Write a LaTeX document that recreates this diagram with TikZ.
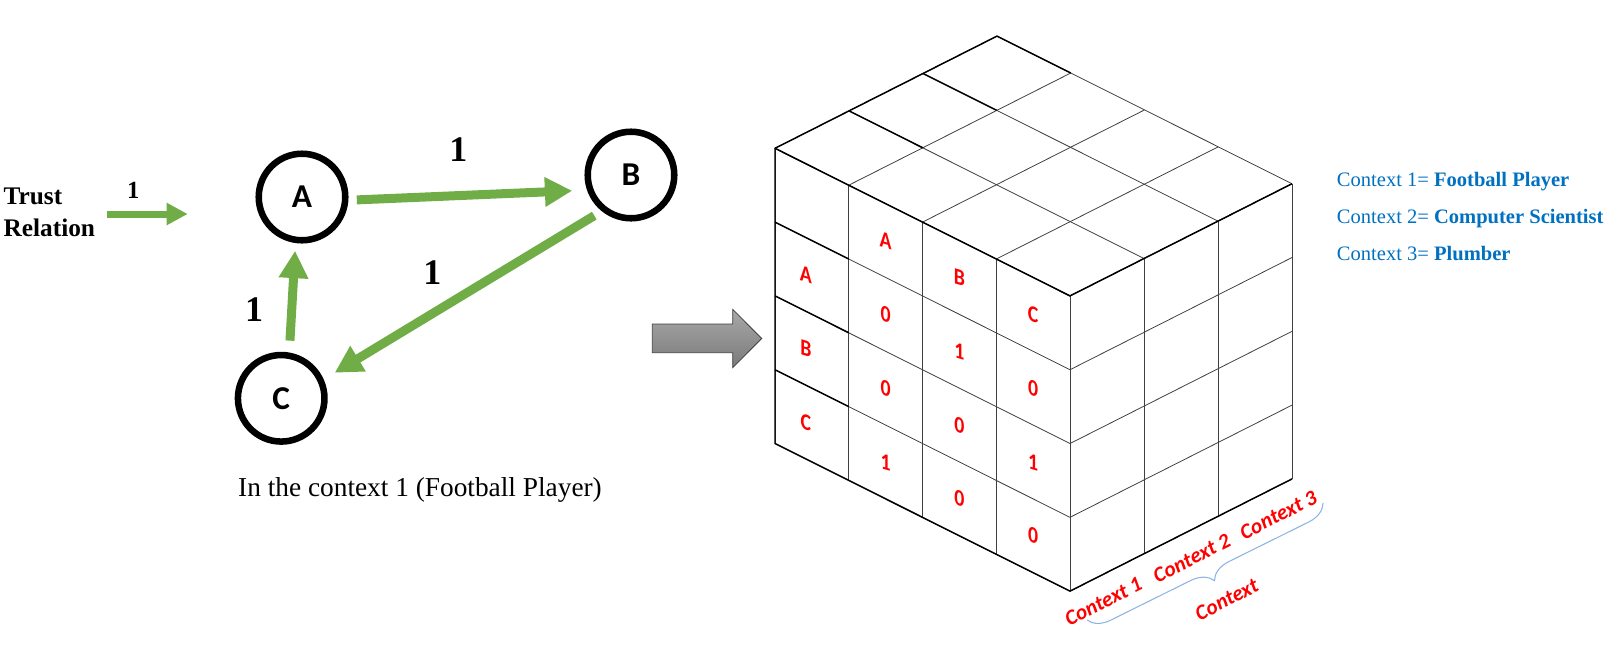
\documentclass[tikz,border=0pt]{standalone}
\usepackage{fontspec}
\setmainfont{Liberation Serif}
\newfontfamily\carlito{Carlito}
\usetikzlibrary{arrows.meta,decorations.pathreplacing}
\definecolor{Leaf}{HTML}{70AD47}
\definecolor{Ink}{HTML}{0070C0}
\definecolor{SoftBlue}{HTML}{8DB4E2}
\definecolor{Mark}{HTML}{FF0000}
\definecolor{GridGray}{HTML}{404040}
\definecolor{ArrowTop}{HTML}{A8A8A8}
\definecolor{ArrowBot}{HTML}{7A7A7A}

\begin{document}
\begin{tikzpicture}[x=0.75pt,y=-0.75pt,
  peer/.style={circle,draw,line width=4.9pt,minimum size=64.9pt,inner sep=0pt,font=\carlito\bfseries\fontsize{25}{30}\selectfont},
  trust/.style={-{Triangle[length=20.5pt,width=21pt]},line width=6.75pt,draw=Leaf},
  trustkey/.style={-{Triangle[length=15.75pt,width=15.75pt]},line width=5.25pt,draw=Leaf},
  weight/.style={font=\bfseries\fontsize{27}{32}\selectfont,inner sep=0pt},
  cell/.style={font=\carlito\bfseries\fontsize{17.5}{20}\selectfont,text=Mark,xscale=0.85,yslant=-0.25,inner sep=0pt},
  ctx/.style={font=\carlito\bfseries\itshape\fontsize{16}{19}\selectfont,text=Mark,rotate=27,inner sep=0pt},
  legend/.style={anchor=west,font=\fontsize{15.4}{18}\selectfont,text=Ink,inner sep=0pt},
  gridline/.style={draw=GridGray,line width=0.6pt},
  rim/.style={draw=black,line width=1.1pt,line join=round},
  ctxbrace/.style={draw=SoftBlue,line width=0.8pt,decorate,decoration={brace,amplitude=16pt}}
]
\useasboundingbox (0,0) rectangle (1607,647);

\node[anchor=west,align=left,inner sep=0pt,font=\bfseries\fontsize{19}{23.5}\selectfont] (key) at (3.3,212.3) {Trust\\Relation};
\coordinate (keyS) at (107.3,214);
\coordinate (keyE) at (187.7,214);
\draw[trustkey] (keyS) -- (keyE);
\node[inner sep=0pt,font=\bfseries\fontsize{18.5}{22}\selectfont] (w0) at (133.3,190.8) {1};

\node[peer] (A) at (302,197) {A};
\node[peer] (B) at (631,175) {B};
\node[peer] (C) at (281.2,398.3) {C};
\draw[trust,shorten <=6.3pt,shorten >=11.1pt] (A.-4.4) -- (B.199.7);
\draw[trust,shorten <=6.5pt,shorten >=9.6pt] (B.231.6) -- (C.24.9);
\draw[trust,shorten <=8.9pt,shorten >=5.8pt] (C.80.6) -- (A.262.6);
\node[weight] (w1) at (458.3,150) {1};
\node[weight] (w2) at (432.3,273) {1};
\node[weight] (w3) at (254,309.7) {1};
\node[inner sep=0pt,font=\fontsize{20.5}{24}\selectfont] (caption) at (420,490) {In the context 1 (Football Player)};

\shade[top color=ArrowTop,bottom color=ArrowBot,draw=GridGray,line width=0.6pt]
  (652.3,324) -- (732.7,324) -- (732.7,309.3) -- (761.7,338.5) -- (732.7,367.7) -- (732.7,352.7) -- (652.3,352.7) -- cycle;

\begin{scope}[shift={(775,148.3)},x={(55.31pt,-27.68pt)},y={(55.5pt,28.05pt)},z={(0pt,-55.35pt)}]
\foreach \j in {0,...,3} \draw[gridline] (0,\j,0) -- (4,\j,0);
\foreach \i in {0,...,4} \draw[gridline] (\i,0,0) -- (\i,3,0);
\foreach \k in {0,...,4} \draw[gridline] (0,0,\k) -- (4,0,\k);
\foreach \i in {0,...,4} \draw[gridline] (\i,0,0) -- (\i,0,4);
\foreach \k in {0,...,4} \draw[gridline] (4,0,\k) -- (4,3,\k);
\foreach \j in {0,...,3} \draw[gridline] (4,\j,0) -- (4,\j,4);
\draw[rim] (1,3,0) -- (0,3,0) -- (0,0,0) -- (0,0,4) -- (4,0,4) -- (4,3,4);
\draw[rim] (0,0,0) -- (4,0,0) -- (4,3,0);
\foreach \j in {1,2} \draw[rim] (0,\j,0) -- (1,\j,0);
\foreach \k in {1,2,3} \draw[rim] (0,0,\k) -- (1,0,\k);
\foreach \t [count=\i from 1] in {A,B,C} \node[cell] (hc\i) at (\i+0.5,0,0.5) {\t};
\foreach \t [count=\k from 1] in {A,B,C} \node[cell] (hr\k) at (0.42,0,\k+0.5) {\t};
\foreach \row [count=\k from 1] in {{0,1,0},{0,0,1},{1,0,0}}
  \foreach \v [count=\i from 1] in \row
    \node[cell] (v\k\i) at (\i+0.5,0,\k+0.5) {\v};
\end{scope}

\node[ctx] (ctx1) at (1103.3,601.7) {Context 1};
\node[ctx] (ctx2) at (1191.7,558.3) {Context 2};
\node[ctx] (ctx3) at (1278.3,515) {Context 3};
\coordinate (braceR) at (1323,503);
\coordinate (braceL) at (1087,620);
\draw[ctxbrace] (braceR) -- (braceL);
\node[ctx] (ctx) at (1226.7,599.5) {Context};

\node[legend] (leg1) at (1336.7,181.7) {Context 1= \textbf{Football Player}};
\node[legend] (leg2) at (1336.7,218.3) {Context 2= \textbf{Computer Scientist}};
\node[legend] (leg3) at (1336.7,253.3) {Context 3= \textbf{Plumber}};
\end{tikzpicture}
\end{document}
